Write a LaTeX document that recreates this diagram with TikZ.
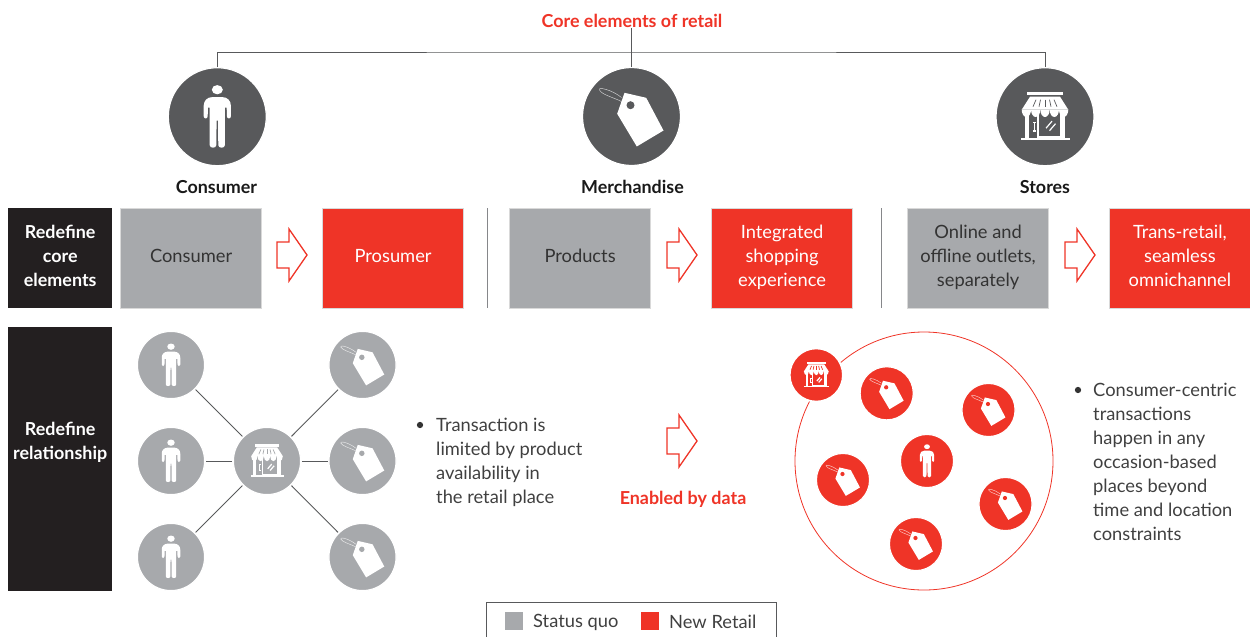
\documentclass[tikz,border=0pt]{standalone}
\usepackage{fontspec}
\setmainfont{Lato}
\definecolor{rd}{HTML}{EF3427}
\definecolor{gy}{HTML}{A7A9AC}
\definecolor{dk}{HTML}{58595B}
\definecolor{bk}{HTML}{231F20}
\newcommand\UP[2][1.2pt]{\raisebox{#1}[14pt][4pt]{#2}}
\tikzset{
 x=1pt,y=-1pt,
 disc/.style={circle,inner sep=0pt,minimum size=#1*2pt,draw=white,line width=1.2pt},
 big/.style={disc=49,fill=dk},
 gdisc/.style={disc=33.6,fill=gy},
 rdisc/.style={disc=26.6,fill=rd},
 link/.style={draw=dk,line width=0.9pt},
 dotb/.style={circle,fill=black!80,inner sep=0pt,minimum size=6.3pt},
 txt/.style={font=\fontsize{18.3}{24}\selectfont,text=black!75,inner sep=0pt,align=left},
 hd/.style={font=\fontsize{17.9}{24}\selectfont\bfseries,inner sep=0pt,text=black!90},
 redhd/.style={font=\fontsize{17.9}{24}\selectfont\bfseries,inner sep=0pt,text=rd},
 blk/.style={fill=bk,text=white,font=\fontsize{17.9}{24}\selectfont\bfseries,align=center,inner sep=0pt,anchor=north west,minimum width=104pt},
 sq/.style={inner sep=0pt,anchor=north west,minimum width=141pt,minimum height=100pt,draw=white!85!black,line width=0.4pt},
 grybox/.style={sq,fill=gy,text=black!80,font=\fontsize{18.3}{24}\selectfont,align=center},
 redbox/.style={sq,fill=rd,text=white,font=\fontsize{18.3}{24}\selectfont,align=center},
 pics/person/.style={code={
  \fill[#1] (0,-27) ellipse (5.5 and 4.6);
  \fill[#1] (-5,-19.6) -- (5,-19.6) .. controls (10,-19.6) and (13.6,-16) .. (13.6,-11)
    -- (13.6,-0.5) .. controls (13.6,2.5) and (9.6,2.5) .. (9.6,-0.5) -- (9.4,-9) -- (7.6,-9)
    -- (7.6,28.5) .. controls (7.6,31.8) and (1,31.8) .. (1,28.5) -- (0.7,4) -- (-0.7,4)
    -- (-1,28.5) .. controls (-1,31.8) and (-7.6,31.8) .. (-7.6,28.5)
    -- (-7.6,-9) -- (-9.4,-9) -- (-9.6,-0.5) .. controls (-9.6,2.5) and (-13.6,2.5) .. (-13.6,-0.5)
    -- (-13.6,-11) .. controls (-13.6,-16) and (-10,-19.6) .. (-5,-19.6) -- cycle;
 }},
 pics/tag/.style 2 args={code={
  \draw[#1,opacity=0.75,line width=0.45pt] (-10,-19) .. controls (-20,-27) and (-34,-30) .. (-32,-26.5) .. controls (-30,-22) and (-18,-19) .. (-10,-15);
  \fill[#1] (-7,-23.7) -- (14.7,-18.7) -- (32,14) -- (5.3,30) -- (-14.3,-2.7) -- cycle;
  \fill[#2] (-1,-11.3) circle (4);
 }},
 pics/shop/.style 2 args={code={
  \fill[#1] (-17.7,-24.5) rectangle (17.7,-21.3);
  \fill[#1] (-15,-20) -- (15,-20) -- (23.3,-7) -- (-23.3,-7) -- cycle;
  \foreach \a/\b in {-9/-12,-4.5/-6,0/0,4.5/6,9/12} \draw[#2,line width=0.7pt] (\a,-17) -- (\b,-10);
  \foreach \c in {-18.64,-9.32,0,9.32,18.64} \fill[#1] (\c-4.66,-7.2) arc[start angle=180,end angle=0,x radius=4.66,y radius=7.5];
  \fill[#1] (-24,20.8) rectangle (24.5,23.5);
  \fill[#1] (-20,-3) rectangle (-16,21);
  \fill[#1] (-7.8,-2) rectangle (-6.2,21);
  \fill[#1] (14.5,-3) rectangle (20,21);
  \fill[#1] (-7,18.8) rectangle (15,20.8);
  \fill[#1] (-11.4,5) rectangle (-9.6,15);
  \fill[#1] (-12.4,5) rectangle (-8.6,6.4);
  \fill[#1] (-12.4,13.6) rectangle (-8.6,15);
  \draw[#1,line width=1.2pt] (1,11.5) -- (7,4.5) (4.5,14) -- (10.5,7);
 }},
 pics/hollow/.style={code={
  \draw[rd,line width=1.3pt,line join=miter,fill=white] (-13,-13) -- (-1,-13) -- (-1,-26) -- (17,0) -- (-1,26) -- (-1,13) -- (-13,13) -- cycle;
 }},
}
\begin{document}
\begin{tikzpicture}[x=1pt,y=-1pt]
\useasboundingbox (0,0) rectangle (1250,637);
\node[redhd] (title) at (632,21) {Core elements of retail};
% top icons
\node[big] (c1) at (217.3,116.7) {};
\node[big] (c2) at (631.5,116.5) {};
\node[big] (c3) at (1045,116.7) {};
\coordinate (bus) at (631.5,52);
\draw[link] (c1.north) |- (bus) -| (c3.north);
\draw[link] (title.south -| bus) -- (c2.north);
\pic at (c1) {person={white}};
\pic at (c2) {tag={white}{dk}};
\pic at (c3) {shop={white}{dk}};
\node[hd] (l1) at (216.5,187) {Consumer};
\node[hd] (l2) at (632.5,187) {Merchandise};
\node[hd] (l3) at (1045,187) {Stores};
% row 1
\node[blk,minimum height=100pt] (r1) at (8,208) {\UP{Redefine}\\\UP{core}\\\UP{elements}};
\node[grybox] (b1) at (120.4,208) {\UP{Consumer}};
\node[redbox] (b2) at (322.4,208) {\UP{Prosumer}};
\node[grybox] (b3) at (509.4,208) {\UP{Products}};
\node[redbox] (b4) at (711.4,208) {\UP{Integrated}\\\UP{shopping}\\\UP{experience}};
\node[grybox] (b5) at (907.4,208) {\UP{Online and}\\\UP{offline outlets,}\\\UP{separately}};
\node[redbox,minimum width=140.6pt] (b6) at (1109.4,208) {\UP{Trans-retail,}\\\UP{seamless}\\\UP{omnichannel}};
\pic at (290,255) {hollow};
\pic at (680,255) {hollow};
\pic at (1078,255) {hollow};
\draw[gy!80!black,line width=0.8pt] (487,208) -- (487,308) (881,208) -- (881,308);
% row 2
\node[blk,minimum height=264pt] (r2) at (8,327) {\UP[17.2pt]{Redefine}\\\UP[17.2pt]{relationship}};
\node[gdisc] (p1) at (171,365) {};
\node[gdisc] (p2) at (171,461) {};
\node[gdisc] (p3) at (171,557) {};
\node[gdisc] (t1) at (362.5,365) {};
\node[gdisc] (t2) at (362.5,461) {};
\node[gdisc] (t3) at (362.5,557) {};
\node[gdisc] (s0) at (267,461) {};
\foreach \n in {p1,p2,p3,t1,t2,t3} \draw[link,shorten <=0.6pt,shorten >=0.6pt] (s0) -- (\n);
\foreach \n in {p1,p2,p3} \pic[scale=0.68] at (\n) {person={white}};
\foreach \n in {t1,t2,t3} \pic[scale=0.68] at (\n) {tag={white}{gy}};
\pic[scale=0.68] at (s0) {shop={white}{gy}};
\node[dotb] (d1) at (420,425) {};
\node[txt,anchor=north west] (tx1) at (436,417.5) {Transaction is\\limited by product\\availability in\\the retail place};
\pic at (680,441) {hollow};
\node[redhd] (en) at (683,499) {Enabled by data};
% right cluster
\node[circle,draw=rd,line width=0.8pt,inner sep=0pt,minimum size=258pt] (ring) at (924,461) {};
\node[rdisc,line width=1.8pt] (s1) at (816.3,375) {};
\node[rdisc] (r-a) at (886.7,393.3) {};
\node[rdisc] (r-b) at (988.5,410) {};
\node[rdisc] (r-c) at (927,461) {};
\node[rdisc] (r-d) at (843,480) {};
\node[rdisc] (r-e) at (1005.5,504) {};
\node[rdisc] (r-f) at (916,544) {};
\pic[scale=0.53] at (s1) {shop={white}{rd}};
\foreach \n in {r-a,r-b,r-d,r-e,r-f} \pic[scale=0.53] at (\n) {tag={white}{rd}};
\pic[scale=0.53] at (r-c) {person={white}};
\node[dotb] (d2) at (1078,390) {};
\node[txt,anchor=north west] (tx2) at (1093,382.5) {Consumer-centric\\transactions\\happen in any\\occasion-based\\places beyond\\time and location\\constraints};
% legend
\draw[draw=dk,line width=0.8pt] (486,637) -- (486,602) -- (776,602) -- (776,637);
\node[inner sep=0pt,minimum size=18pt,fill=gy] (k1) at (514,621) {};
\node[inner sep=0pt,minimum size=18pt,fill=rd] (k2) at (650,621) {};
\node[txt,anchor=west] (kt1) at (533,622) {Status quo};
\node[txt,anchor=west] (kt2) at (669,622) {New Retail};
\end{tikzpicture}
\end{document}
